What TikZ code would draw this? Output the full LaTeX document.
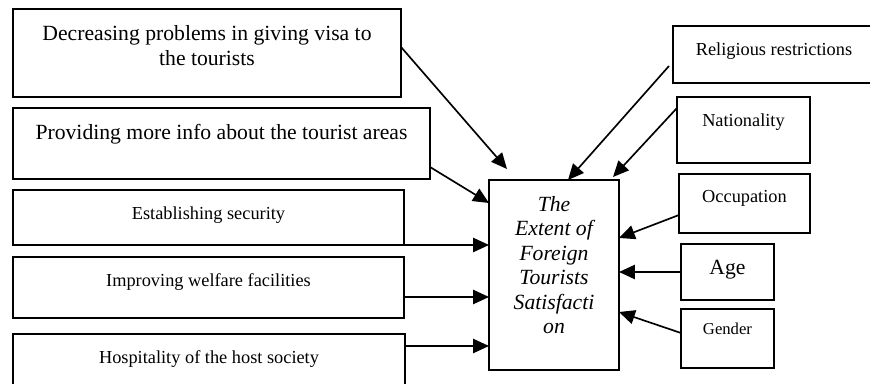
\documentclass[tikz,border=0pt]{standalone}
\usepackage{fontspec}
\setmainfont{Liberation Serif}
\usetikzlibrary{arrows.meta, positioning, calc}

\begin{document}
\begin{tikzpicture}[x=0.6pt, y=-0.6pt,
  box/.style 2 args={draw, rectangle, line width=1pt, anchor=north west, inner sep=0pt, outer sep=0pt, minimum width=#1*0.6pt, minimum height=#2*0.6pt},
  txt/.style={anchor=north, inner sep=0pt, yshift=-9.6pt, align=center},
  big/.style={font=\fontsize{13}{15}\selectfont},
  small/.style={font=\fontsize{11}{13}\selectfont},
  arr/.style={-{Triangle[length=9.5pt, width=8.5pt]}, line width=1pt}]
  \useasboundingbox (0,0) rectangle (870,384);

  % factors on the left
  \node[box={388}{88}, label={[txt, big]north:{Decreasing problems in giving visa to\\the tourists}}] (visa) at (13,9) {};
  \node[box={417}{71}, label={[txt, big]north:{Providing more info about the tourist areas}}] (info) at (13,108) {};
  \node[box={391}{55}, label={[txt, small]north:{Establishing security}}] (secur) at (13,190) {};
  \node[box={391}{61}, label={[txt, small]north:{Improving welfare facilities}}] (welfare) at (13,257) {};
  \node[box={392}{62}, label={[txt, small]north:{Hospitality of the host society}}] (hosp) at (13,334) {};

  % the centre
  \node[box={130}{190}, label={[txt, font=\itshape\fontsize{13}{14.7}\selectfont]north:{The\\Extent of\\Foreign\\Tourists\\Satisfacti\\on}}] (extent) at (489,180) {};

  % factors on the right
  \node[box={202}{57}, label={[txt, small]north:{Religious restrictions}}] (relig) at (673,26) {};
  \node[box={133}{66}, label={[txt, small]north:{Nationality}}] (nation) at (677,97) {};
  \node[box={131}{59}, label={[txt, small]north:{Occupation}}] (occup) at (679,174) {};
  \node[box={93}{56}, label={[txt, font=\fontsize{13}{15}\selectfont]north:{Age}}] (age) at (681,244) {};
  \node[box={93}{59}, label={[txt, yshift=1.2pt, font=\fontsize{10}{12}\selectfont]north:{Gender}}] (gender) at (681,309) {};

  \coordinate (wf) at ($(welfare.south east)+(0,-21)$);
  \coordinate (hs) at ($(hosp.north east)+(0,12)$);

  \draw[arr] ($(visa.north east)+(0,38)$) -- ($(extent.north west)+(18,-11)$);
  \draw[arr] ($(info.south east)+(0,-12)$) -- ($(extent.north west)+(0,23)$);
  \draw[arr] (secur.south east) -- (secur.south east -| extent.west);
  \draw[arr] (wf) -- (wf -| extent.west);
  \draw[arr] (hs) -- (hs -| extent.west);

  \draw[arr] ($(relig.south west)+(-4,-17)$) -- ($(extent.north west)+(79,0)$);
  \draw[arr] ($(nation.north west)+(0,11)$) -- ($(extent.north east)+(-6,-3)$);
  \draw[arr] ($(occup.south west)+(0,-18)$) -- ($(extent.north east)+(0,58)$);
  \draw[arr] (age.west) -- (age.west -| extent.east);
  \draw[arr] ($(gender.north west)+(0,24)$) -- ($(extent.north east)+(0,132)$);
\end{tikzpicture}
\end{document}
